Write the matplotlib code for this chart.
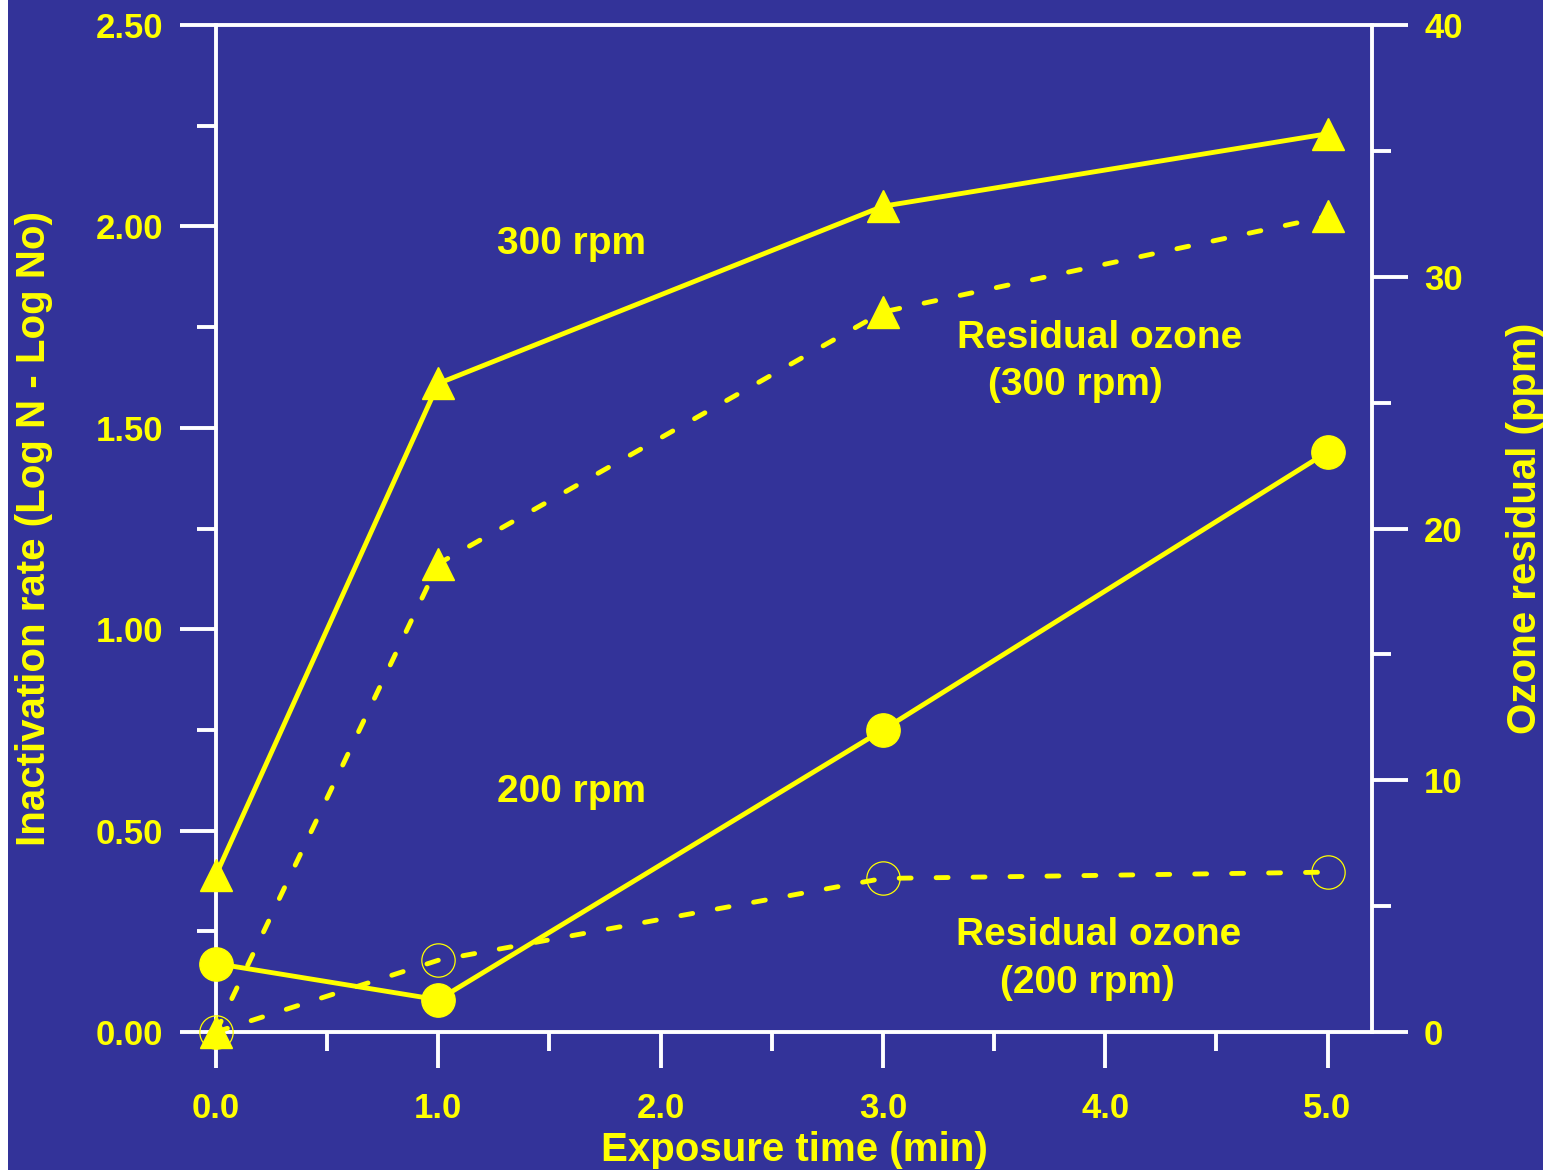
import matplotlib
matplotlib.use('Agg')
import matplotlib.pyplot as plt
from matplotlib.patches import Rectangle
from matplotlib.ticker import MultipleLocator, FormatStrFormatter

# ---- data ----
time_min = [0, 1, 3, 5]
inact_300 = [0.39, 1.61, 2.05, 2.23]
inact_200 = [0.17, 0.08, 0.75, 1.44]
ozone_300 = [0.0, 18.6, 28.6, 32.4]
ozone_200 = [0.0, 2.85, 6.1, 6.35]

xlabel = 'Exposure time (min)'
ylabel_left = 'Inactivation rate (Log N - Log No)'
ylabel_right = 'Ozone residual (ppm)'

BG = '#333399'
YEL = '#FFFF00'
W, H = 1551, 1170

plt.rcParams['font.family'] = ['Liberation Sans', 'DejaVu Sans']
plt.rcParams['font.weight'] = 'bold'
plt.rcParams['axes.labelweight'] = 'bold'
plt.rcParams['lines.scale_dashes'] = False

fig = plt.figure(figsize=(W / 100, H / 100), dpi=100, facecolor='white')
fig.patches.append(Rectangle((8 / W, 0), (1543 - 8) / W, 1, transform=fig.transFigure,
                             facecolor=BG, edgecolor='none', zorder=-10))

L, R, T, B = 216, 1372, 25, 1032
ax = fig.add_axes([L / W, 1 - B / H, (R - L) / W, (B - T) / H])
ax.set_facecolor('none')
ax2 = ax.twinx()
ax2.set_facecolor('none')

lw = 3.5
dash = (0, (8.6, 18))

ax.plot(time_min, inact_300, '-', color=YEL, lw=lw, marker='^', ms=23,
        clip_on=False, zorder=3)
ax.plot(time_min, inact_200, '-', color=YEL, lw=lw, marker='o', ms=24,
        clip_on=False, zorder=3)
ax2.plot(time_min, ozone_300, linestyle=dash, color=YEL, lw=lw, marker='^', ms=23,
         dash_capstyle='round', clip_on=False, zorder=3)
ax2.plot(time_min, ozone_200, linestyle=dash, color=YEL, lw=lw, marker='o', ms=24,
         mfc='none', mec=YEL, mew=0.9, dash_capstyle='round', clip_on=False, zorder=3)

ax.set_xlim(0, 5.2)
ax.set_ylim(0, 2.5)
ax2.set_ylim(0, 40)

ax.xaxis.set_major_locator(MultipleLocator(1))
ax.xaxis.set_minor_locator(MultipleLocator(0.5))
ax.xaxis.set_major_formatter(FormatStrFormatter('%.1f'))
ax.yaxis.set_major_locator(MultipleLocator(0.5))
ax.yaxis.set_minor_locator(MultipleLocator(0.25))
ax.yaxis.set_major_formatter(FormatStrFormatter('%.2f'))
ax2.yaxis.set_major_locator(MultipleLocator(10))
ax2.yaxis.set_minor_locator(MultipleLocator(5))
ax2.yaxis.set_major_formatter(FormatStrFormatter('%d'))

slw = 2.8
for name, sp in ax.spines.items():
    sp.set_color('white')
    sp.set_linewidth(slw)
ax.spines['right'].set_visible(False)
for name, sp in ax2.spines.items():
    sp.set_color('white')
    sp.set_linewidth(slw)
    if name != 'right':
        sp.set_visible(False)

for a in (ax, ax2):
    a.tick_params(which='both', direction='out', color='white', width=slw,
                  labelsize=25, labelcolor=YEL)
    a.tick_params(which='major', length=26)
    a.tick_params(which='minor', length=14)
ax.tick_params(axis='y', which='both', right=False, pad=12)
ax.tick_params(axis='x', which='both', top=False, pad=17)
ax2.tick_params(axis='y', which='both', left=False, right=True, pad=11.5)

ax.set_xlabel(xlabel, fontsize=29, color=YEL, fontweight='bold')
ax.xaxis.set_label_coords(0.5, (B - 1161) / (B - T))
ax.xaxis.label.set_va('baseline')

ax.set_ylabel(ylabel_left, fontsize=29, color=YEL, fontweight='bold')
ax.yaxis.set_label_coords((45 - L) / (R - L), 0.5)
ax.yaxis.label.set_va('baseline')

ax2.set_ylabel(ylabel_right, fontsize=29, color=YEL, rotation=90, fontweight='bold')
ax2.yaxis.set_label_coords((1536 - L) / (R - L), 0.5)
ax2.yaxis.label.set_va('baseline')
ax2.yaxis.label.set_rotation_mode('anchor')

tk = dict(ha='center', va='baseline', fontsize=28, color=YEL, zorder=4)
ax.text(1.598, 1.931, '300 rpm', **tk)
ax.text(1.598, 0.571, '200 rpm', **tk)
ax.text(3.974, 1.698, 'Residual ozone', **tk)
ax.text(3.866, 1.581, '(300 rpm)', **tk)
ax.text(3.972, 0.216, 'Residual ozone', **tk)
ax.text(3.918, 0.097, '(200 rpm)', **tk)

fig.savefig('out.png', dpi=100, facecolor=fig.get_facecolor())
